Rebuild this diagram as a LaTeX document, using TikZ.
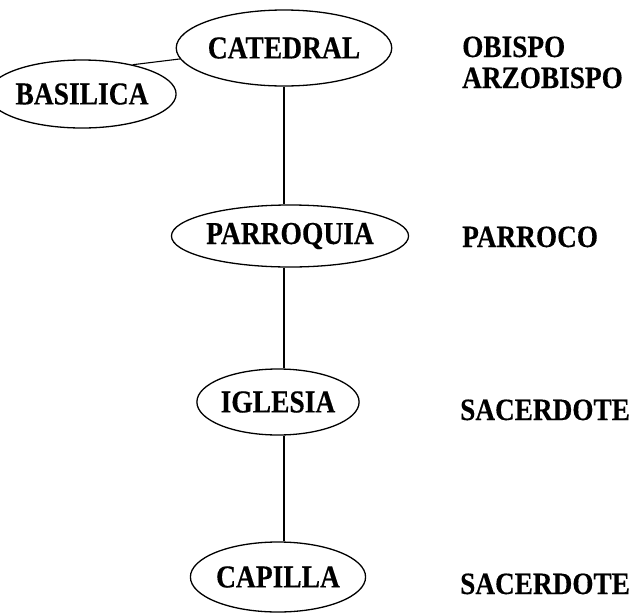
\documentclass[tikz,border=0pt]{standalone}
\usepackage{fontspec}
\newfontfamily\nodefont{Liberation Serif}[FakeStretch=0.86, FakeBold=0.3]
\newfontfamily\rankfont{Liberation Serif}[FakeStretch=0.88, FakeBold=0.3]
\usetikzlibrary{shapes.geometric}
\tikzset{
  church/.style={draw, ellipse, line width=1.3pt, inner sep=0pt, font=\nodefont\fontsize{32}{36}\selectfont\bfseries},
  rank/.style={anchor=base west, inner sep=0pt, font=\rankfont\fontsize{31}{36}\selectfont\bfseries},
  link/.style={line width=1.1pt}
}
\begin{document}
\begin{tikzpicture}[x=1pt,y=1pt]
\useasboundingbox (0,0) rectangle (638,-614);
\node[church, minimum width=178pt, minimum height=76pt] (cat) at (284,-48) {CATEDRAL};
\node[church, minimum width=161pt, minimum height=68pt] (bas) at (82,-94) {BASILICA};
\node[church, minimum width=234pt, minimum height=62pt] (par) at (290,-236) {PARROQUIA};
\node[church, minimum width=147pt, minimum height=66pt] (igl) at (278,-402) {IGLESIA};
\node[church, minimum width=145pt, minimum height=70pt] (cap) at (278,-577) {CAPILLA};
\coordinate (spine) at (284,0);
\draw[link] (bas.30) -- (cat.186);
\draw[link] (cat.south -| spine) -- (par.north -| spine);
\draw[link] (par.south -| spine) -- (igl.north -| spine);
\draw[link] (igl.south -| spine) -- (cap.north -| spine);
\node[rank] (obi) at (462,-57) {OBISPO};
\node[rank] (arz) at (462,-88) {ARZOBISPO};
\node[rank] (prr) at (462,-247) {PARROCO};
\node[rank] (sac1) at (460,-420) {SACERDOTE};
\node[rank] (sac2) at (460,-594) {SACERDOTE};
\end{tikzpicture}
\end{document}
